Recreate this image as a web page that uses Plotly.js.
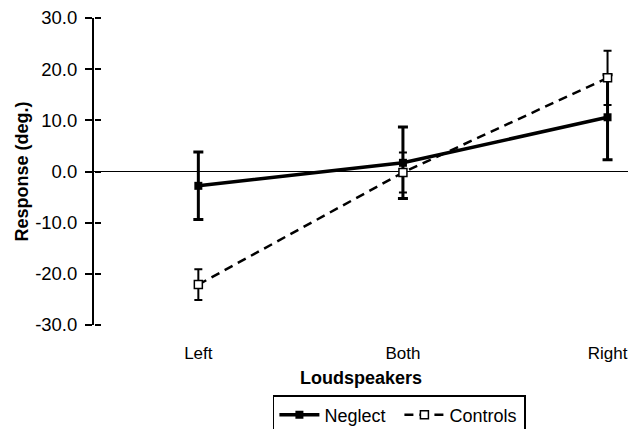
<!DOCTYPE html>
<html>
<head>
<meta charset="utf-8">
<script src="https://cdn.plot.ly/plotly-3.0.1.min.js"></script>
<style>html,body{margin:0;padding:0;background:#fff;}#chart{width:628px;height:429px;}</style>
</head>
<body>
<div id="chart"></div>
<script>
var categories = ["Left", "Both", "Right"];
var neglectValues = [-2.8, 1.7, 10.6];
var neglectErrors = [6.6, 7.0, 8.3];
var controlsValues = [-22.1, -0.2, 18.3];
var controlsErrors = [3.0, 3.9, 5.3];
var yTickValues = [-30, -20, -10, 0, 10, 20, 30];
var yTickLabels = ["-30.0", "-20.0", "-10.0", "0.0", "10.0", "20.0", "30.0"];

var xIdx = categories.map(function(c, i){ return i; });

var neglect = {
  x: xIdx, y: neglectValues, name: "Neglect", type: "scatter", mode: "lines+markers",
  line: {color: "#000", width: 3.5},
  marker: {symbol: "square", size: 8, color: "#000"},
  error_y: {type: "data", array: neglectErrors, visible: true, color: "#000", thickness: 3, width: 5}
};
var controls = {
  x: xIdx, y: controlsValues, name: "Controls", type: "scatter", mode: "lines+markers",
  line: {color: "#000", width: 2.5, dash: "9px,6px"},
  marker: {symbol: "square", size: 8, color: "#fff", line: {color: "#000", width: 1.5}},
  error_y: {type: "data", array: controlsErrors, visible: true, color: "#000", thickness: 2, width: 4}
};
// invisible trace so the helper axis (inner half of the crossing ticks) is drawn
var tickHelper = {x: xIdx, y: neglectValues, yaxis: "y2", mode: "none", showlegend: false, hoverinfo: "skip", type: "scatter"};

var layout = {
  width: 628, height: 429,
  margin: {l: 94, r: 0, t: 18, b: 104},
  paper_bgcolor: "#fff", plot_bgcolor: "#fff",
  font: {family: "Liberation Sans, Arial, sans-serif", color: "#000", size: 17},
  showlegend: true,
  xaxis: {
    range: [-0.51, 2.1], tickmode: "array", tickvals: xIdx, ticktext: categories,
    color: "#000",
    showgrid: false, zeroline: false, showline: false, ticks: "",
    ticklabelstandoff: 16, tickfont: {size: 17, color: "#000"},
    title: {text: "<b>Loudspeakers</b>", font: {size: 18, color: "#000"}, standoff: 9},
    automargin: false
  },
  yaxis: {
    range: [-30, 30], tickmode: "array", tickvals: yTickValues, ticktext: yTickLabels,
    color: "#000",
    showgrid: false, zeroline: true, zerolinecolor: "#000", zerolinewidth: 1.5,
    showline: true, linecolor: "#000", linewidth: 2,
    ticks: "outside", ticklen: 7, tickwidth: 2, tickcolor: "#000",
    ticklabelstandoff: 4, tickfont: {size: 18.5, color: "#000"},
    title: {text: "<b>Response (deg.)</b>", font: {size: 18, color: "#000"}, standoff: 2},
    automargin: false
  },
  yaxis2: {
    overlaying: "y", anchor: "free", position: 0, side: "right", range: [-30, 30],
    tickmode: "array", tickvals: yTickValues, showticklabels: false,
    ticks: "outside", ticklen: 6, tickwidth: 2, tickcolor: "#000",
    showgrid: false, zeroline: false, showline: false, automargin: false
  },
  legend: {
    orientation: "h", xref: "container", yref: "container",
    x: 0.636, xanchor: "center", y: 0.079, yanchor: "top",
    bordercolor: "#000", borderwidth: 1.5, bgcolor: "#fff",
    itemwidth: 40, entrywidth: 70,
    font: {size: 18, color: "#000"}, traceorder: "normal"
  }
};

Plotly.newPlot("chart", [neglect, controls, tickHelper], layout, {displayModeBar: false, staticPlot: true});
</script>
</body>
</html>
